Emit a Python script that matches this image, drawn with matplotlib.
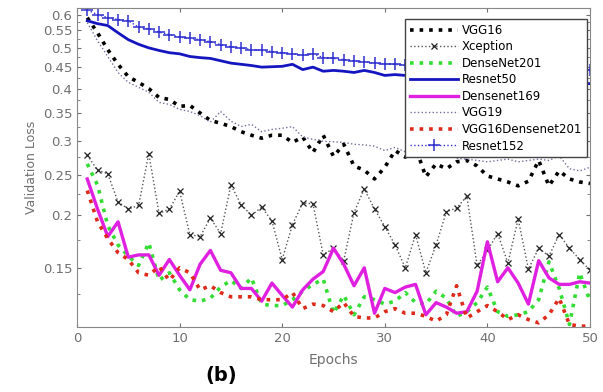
import numpy as np
import matplotlib.pyplot as plt
from matplotlib.ticker import FixedLocator, NullFormatter

epochs = list(range(1, 51))

vgg16 = [0.59, 0.543, 0.495, 0.457, 0.427, 0.414, 0.40, 0.381, 0.377, 0.363,
         0.365, 0.35, 0.336, 0.331, 0.325, 0.316, 0.31, 0.305, 0.31, 0.31,
         0.298, 0.307, 0.282, 0.31, 0.276, 0.295, 0.262, 0.256, 0.244, 0.26,
         0.285, 0.275, 0.29, 0.247, 0.265, 0.258, 0.268, 0.27, 0.262, 0.248,
         0.244, 0.24, 0.235, 0.241, 0.27, 0.235, 0.255, 0.244, 0.24, 0.238]
xception = [0.278, 0.256, 0.251, 0.215, 0.207, 0.211, 0.28, 0.202, 0.207, 0.228,
            0.18, 0.178, 0.197, 0.181, 0.236, 0.212, 0.20, 0.209, 0.194, 0.157,
            0.19, 0.214, 0.213, 0.161, 0.167, 0.156, 0.203, 0.231, 0.207, 0.188,
            0.17, 0.15, 0.18, 0.146, 0.17, 0.204, 0.208, 0.222, 0.152, 0.165,
            0.181, 0.154, 0.196, 0.149, 0.167, 0.16, 0.18, 0.167, 0.157, 0.148]
densenet201 = [0.265, 0.236, 0.189, 0.17, 0.16, 0.152, 0.172, 0.14, 0.146, 0.133,
               0.126, 0.125, 0.127, 0.135, 0.14, 0.134, 0.142, 0.123, 0.122, 0.122,
               0.126, 0.132, 0.137, 0.141, 0.117, 0.129, 0.116, 0.128, 0.126, 0.123,
               0.125, 0.131, 0.124, 0.123, 0.132, 0.127, 0.115, 0.118, 0.124, 0.135,
               0.118, 0.115, 0.116, 0.118, 0.126, 0.155, 0.134, 0.11, 0.146, 0.125]
resnet50 = [0.58, 0.571, 0.565, 0.543, 0.523, 0.51, 0.50, 0.493, 0.487, 0.484,
            0.477, 0.474, 0.472, 0.466, 0.46, 0.457, 0.454, 0.45, 0.451, 0.452,
            0.457, 0.444, 0.45, 0.44, 0.442, 0.44, 0.437, 0.442, 0.437, 0.43,
            0.432, 0.43, 0.428, 0.429, 0.427, 0.426, 0.427, 0.424, 0.423, 0.424,
            0.422, 0.421, 0.42, 0.421, 0.419, 0.418, 0.417, 0.415, 0.413, 0.411]
densenet169 = [0.244, 0.207, 0.178, 0.193, 0.159, 0.161, 0.161, 0.144, 0.157, 0.144,
               0.133, 0.153, 0.165, 0.148, 0.146, 0.134, 0.134, 0.125, 0.138, 0.129,
               0.121, 0.133, 0.141, 0.147, 0.167, 0.153, 0.136, 0.15, 0.117, 0.134,
               0.131, 0.135, 0.137, 0.116, 0.124, 0.121, 0.117, 0.118, 0.132, 0.173,
               0.139, 0.15, 0.138, 0.123, 0.156, 0.142, 0.137, 0.137, 0.139, 0.138]
vgg19 = [0.574, 0.52, 0.477, 0.437, 0.414, 0.403, 0.392, 0.371, 0.367, 0.357,
         0.353, 0.345, 0.333, 0.353, 0.335, 0.325, 0.329, 0.316, 0.32, 0.322,
         0.325, 0.307, 0.303, 0.30, 0.299, 0.298, 0.295, 0.294, 0.292, 0.285,
         0.29, 0.283, 0.277, 0.276, 0.275, 0.28, 0.273, 0.272, 0.27, 0.268,
         0.27, 0.272, 0.268, 0.27, 0.272, 0.27, 0.277, 0.258, 0.255, 0.26]
vgg16_densenet201 = [0.229, 0.193, 0.176, 0.163, 0.157, 0.146, 0.144, 0.151, 0.14, 0.15,
                     0.146, 0.133, 0.136, 0.131, 0.128, 0.128, 0.128, 0.126, 0.126, 0.126,
                     0.131, 0.12, 0.123, 0.122, 0.118, 0.124, 0.115, 0.114, 0.114, 0.118,
                     0.12, 0.117, 0.117, 0.115, 0.112, 0.116, 0.136, 0.114, 0.118, 0.122,
                     0.118, 0.113, 0.116, 0.113, 0.111, 0.116, 0.127, 0.11, 0.109, 0.109]
resnet152 = [0.615, 0.60, 0.59, 0.584, 0.58, 0.56, 0.555, 0.545, 0.538, 0.53,
             0.527, 0.523, 0.517, 0.509, 0.503, 0.50, 0.495, 0.493, 0.49, 0.487,
             0.484, 0.48, 0.484, 0.474, 0.472, 0.469, 0.466, 0.463, 0.46, 0.458,
             0.457, 0.455, 0.456, 0.453, 0.452, 0.451, 0.452, 0.45, 0.449, 0.448,
             0.449, 0.447, 0.446, 0.447, 0.445, 0.444, 0.445, 0.442, 0.442, 0.444]

yticks = [0.15, 0.2, 0.25, 0.3, 0.35, 0.4, 0.45, 0.5, 0.55, 0.6]
ytick_labels = ["0.15", "0.2", "0.25", "0.3", "0.35", "0.4", "0.45", "0.5", "0.55", "0.6"]

grey = "#707070"

fig = plt.figure(figsize=(6.03, 3.92), dpi=100)
ax = fig.add_axes([0.1277, 0.1658, 0.8507, 0.8138])

ax.plot(epochs, vgg16, ls=":", lw=2.6, color="black", label="VGG16")
ax.plot(epochs, xception, ls=":", lw=1.0, color="#555555", marker="x",
        ms=5, mec="#222222", mew=0.9, label="Xception")
ax.plot(epochs, densenet201, ls=":", lw=2.6, color="#33dd33", label="DenseNet201")
ax.plot(epochs, resnet50, ls="-", lw=2.0, color="#1515c0", label="Resnet50")
ax.plot(epochs, densenet169, ls="-", lw=2.4, color="#e020e0", label="Densenet169")
ax.plot(epochs, vgg19, ls=":", lw=1.0, color="#7070a0", label="VGG19")
ax.plot(epochs, vgg16_densenet201, ls=":", lw=2.6, color="#dd2a1a", label="VGG16Densenet201")
ax.plot(epochs, resnet152, ls=":", lw=1.0, color="#3030d0", marker="+",
        ms=8, mew=1.1, label="Resnet152")

ax.set_yscale("log")
ax.set_xlim(0, 50)
ax.set_ylim(0.1085, 0.622)
ax.yaxis.set_major_locator(FixedLocator(yticks))
ax.set_yticklabels(ytick_labels)
ax.yaxis.set_minor_locator(FixedLocator([0.13, 0.175, 0.225, 0.275, 0.325, 0.375,
                                         0.425, 0.475, 0.525, 0.575]))
ax.yaxis.set_minor_formatter(NullFormatter())
ax.set_xticks([0, 10, 20, 30, 40, 50])

ax.tick_params(which="both", direction="in", top=True, right=True,
               colors=grey, labelsize=9.5, length=3)
ax.tick_params(which="minor", length=2)
for sp in ax.spines.values():
    sp.set_color("#888888")

ax.set_xlabel("Epochs", color=grey, fontsize=10, labelpad=6)
ax.set_ylabel("Validation Loss", color=grey, fontsize=9, labelpad=3)

leg = ax.legend(loc="upper right", bbox_to_anchor=(0.994, 0.9655), borderaxespad=0,
                fontsize=8.5, handlelength=4.1, labelspacing=0.3, handletextpad=0.3,
                fancybox=False, framealpha=1, borderpad=0.4)
leg.get_frame().set_edgecolor("#444444")
leg.get_frame().set_linewidth(1.0)

fig.text(0.367, 0.041, "(b)", fontsize=14, fontweight="bold", ha="center", va="center")

fig.savefig("out.png", dpi=100)
